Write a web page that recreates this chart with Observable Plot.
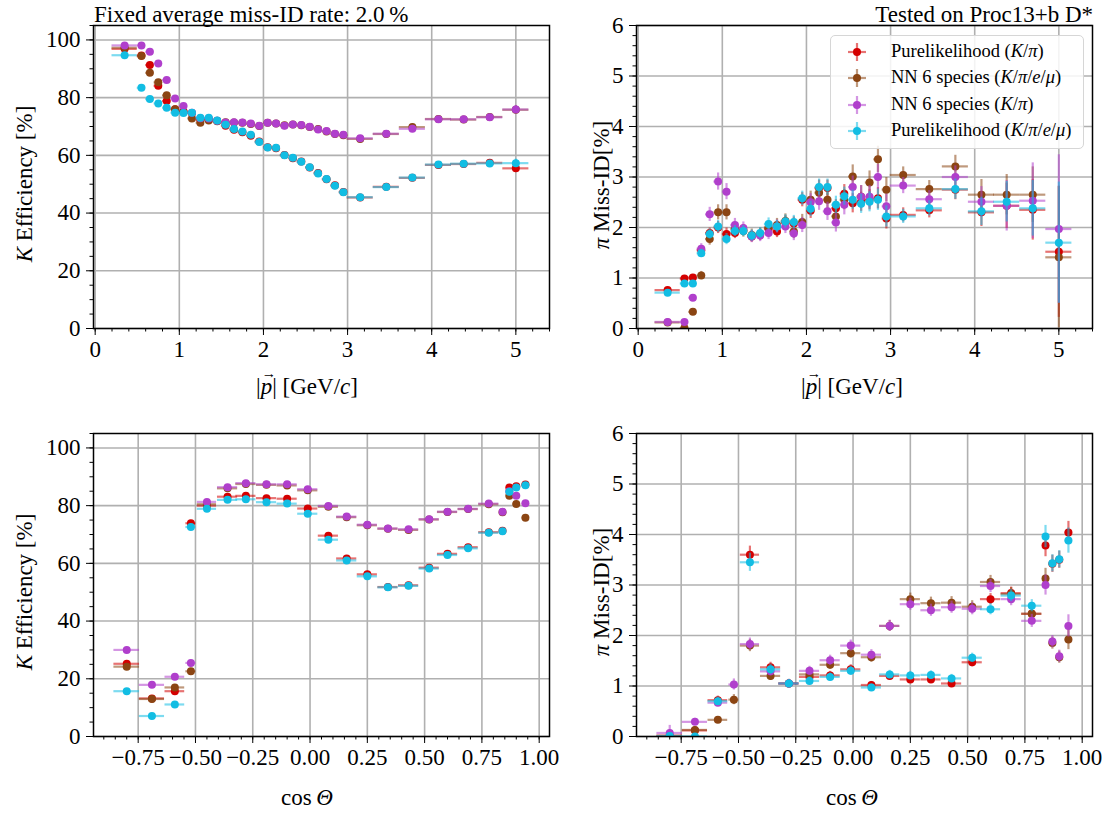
<!DOCTYPE html>
<html>
<head>
<meta charset="utf-8">
<script src="https://cdn.jsdelivr.net/npm/d3@7"></script>
<script src="https://cdn.jsdelivr.net/npm/@observablehq/plot@0.6"></script>
<style>
  body { margin: 0; background: #fff; }
  #fig { position: relative; width: 1112px; height: 816px; overflow: hidden; font-family: "Liberation Serif", "DejaVu Serif", serif; }
  #fig svg { position: absolute; overflow: visible; }
  .txt { position: absolute; white-space: nowrap; color: #000; line-height: 1; font-size: 23px; }
  .vec { position: relative; display: inline-block; }
  .vec::after { content: "\2192"; position: absolute; left: 0.08em; top: -0.62em; font-size: 0.62em; font-style: normal; }
  .legend { position: absolute; left: 830px; top: 35px; width: 252px; height: 112px; border: 1px solid #d6d6d6; border-radius: 5px; background: rgba(255,255,255,0.85); }
  .legend .row { position: absolute; left: 0; height: 26px; width: 100%; }
  .legend svg { position: absolute; left: 13px; top: 0; }
  .legend span.lab { position: absolute; left: 60px; top: 3px; font-size: 18.5px; line-height: 1; white-space: nowrap; }
</style>
</head>
<body>
<div id="fig"></div>
<script>
// ---- series ----
const seriesNames = [
  "Purelikelihood (<i>K</i>/<i>π</i>)",
  "NN 6 species (<i>K</i>/<i>π</i>/<i>e</i>/<i>μ</i>)",
  "NN 6 species (<i>K</i>/<i>π</i>)",
  "Purelikelihood (<i>K</i>/<i>π</i>/<i>e</i>/<i>μ</i>)"
];

// ---- momentum bins (GeV/c) ----
const pCenters = [0.35, 0.55, 0.65, 0.75, 0.85, 0.95, 1.05, 1.15, 1.25, 1.35, 1.45, 1.55, 1.65, 1.75, 1.85, 1.95,
  2.05, 2.15, 2.25, 2.35, 2.45, 2.55, 2.65, 2.75, 2.85, 2.95, 3.15, 3.46, 3.77, 4.08, 4.38, 4.69, 5.0];
const pHalfWidths = [0.15, 0.05, 0.05, 0.05, 0.05, 0.05, 0.05, 0.05, 0.05, 0.05, 0.05, 0.05, 0.05, 0.05, 0.05, 0.05,
  0.05, 0.05, 0.05, 0.05, 0.05, 0.05, 0.05, 0.05, 0.05, 0.05, 0.155, 0.155, 0.155, 0.155, 0.155, 0.155, 0.155];

// K efficiency [%] vs momentum
const effP_pureKpi = [96.9, 94.6, 91.3, 84.1, 78.8, 76.0, 75.2, 74.6, 72.4, 72.6, 72.0, 70.3, 68.9, 68.0, 66.8, 64.8,
  62.8, 62.5, 60.1, 59.0, 57.9, 55.8, 53.9, 51.7, 49.6, 47.3, 45.4, 49.1, 52.2, 56.7, 57.0, 57.4, 55.5];
const effP_nnAll = [97.3, 94.4, 88.6, 85.3, 80.8, 76.0, 75.0, 72.8, 71.3, 72.1, 71.8, 71.5, 71.4, 71.3, 70.9, 70.2,
  71.3, 71.0, 70.4, 70.7, 70.4, 69.8, 69.1, 68.3, 67.4, 67.0, 65.7, 67.4, 69.8, 72.6, 72.4, 73.3, 75.8];
const effP_nnKpi = [98.1, 98.1, 95.9, 91.8, 86.1, 79.7, 77.1, 74.8, 72.9, 72.8, 72.0, 71.4, 71.5, 71.4, 71.0, 70.3,
  71.3, 71.0, 70.3, 70.7, 70.5, 69.9, 69.0, 68.4, 67.5, 67.1, 65.9, 67.5, 69.2, 72.5, 72.5, 73.2, 75.9];
const effP_pureAll = [94.7, 83.4, 79.5, 78.0, 76.5, 74.8, 74.7, 74.8, 73.0, 73.0, 72.1, 70.6, 69.1, 68.3, 67.1, 64.6,
  62.7, 62.6, 60.0, 59.2, 57.8, 55.9, 53.7, 51.8, 49.5, 47.2, 45.5, 49.0, 52.3, 56.8, 57.1, 57.2, 57.3];
const effP_err = [0.3, 0.3, 0.3, 0.3, 0.3, 0.3, 0.3, 0.3, 0.3, 0.3, 0.3, 0.3, 0.3, 0.3, 0.3, 0.3,
  0.3, 0.3, 0.3, 0.3, 0.3, 0.3, 0.3, 0.3, 0.3, 0.3, 0.5, 0.6, 0.7, 0.8, 0.9, 1.0, 1.4];

// pi miss-ID [%] vs momentum
const misP_pureKpi = [0.76, 0.99, 1.01, 1.55, 1.89, 2.00, 1.87, 1.89, 1.95, 1.82, 1.86, 1.97, 1.92, 2.10, 2.08, 2.55,
  2.33, 2.78, 2.78, 2.38, 2.67, 2.48, 2.51, 2.55, 2.58, 2.18, 2.25, 2.34, 2.75, 2.30, 2.43, 2.35, 1.52];
const misP_nnAll = [0.12, 0.01, 0.33, 1.05, 1.77, 2.30, 2.30, 1.97, 1.93, 1.85, 1.87, 2.00, 2.05, 2.13, 1.92, 2.11,
  2.55, 2.69, 2.55, 2.22, 2.55, 3.01, 2.61, 2.89, 3.35, 2.75, 3.04, 2.76, 3.21, 2.65, 2.65, 2.65, 1.41];
const misP_nnKpi = [0.13, 0.13, 0.61, 1.58, 2.26, 2.91, 2.71, 2.05, 1.99, 1.82, 1.84, 1.89, 2.02, 2.02, 1.88, 2.05,
  2.50, 2.52, 2.32, 2.10, 2.45, 2.80, 2.61, 2.61, 3.00, 2.42, 2.83, 2.56, 3.00, 2.51, 2.43, 2.53, 1.97];
const misP_pureAll = [0.71, 0.89, 0.89, 1.49, 1.87, 2.02, 1.77, 1.93, 1.93, 1.84, 1.89, 2.07, 2.02, 2.12, 2.11, 2.58,
  2.37, 2.80, 2.80, 2.45, 2.62, 2.55, 2.47, 2.51, 2.55, 2.22, 2.22, 2.38, 2.76, 2.32, 2.51, 2.38, 1.70];
const misP_err_pureKpi = [0.04, 0.05, 0.06, 0.08, 0.10, 0.12, 0.12, 0.11, 0.11, 0.11, 0.11, 0.12, 0.12, 0.13, 0.13, 0.14,
  0.15, 0.16, 0.16, 0.17, 0.18, 0.19, 0.19, 0.20, 0.21, 0.21, 0.14, 0.15, 0.20, 0.28, 0.45, 0.60, 1.30];
const misP_err_nnAll = [0.02, 0.02, 0.05, 0.08, 0.12, 0.15, 0.15, 0.12, 0.12, 0.12, 0.12, 0.13, 0.13, 0.14, 0.14, 0.15,
  0.17, 0.18, 0.18, 0.19, 0.20, 0.23, 0.22, 0.23, 0.26, 0.24, 0.16, 0.17, 0.22, 0.30, 0.40, 0.55, 1.40];
const misP_err_nnKpi = [0.02, 0.02, 0.06, 0.10, 0.14, 0.17, 0.16, 0.13, 0.12, 0.12, 0.12, 0.13, 0.13, 0.14, 0.14, 0.15,
  0.17, 0.18, 0.18, 0.19, 0.20, 0.22, 0.22, 0.22, 0.25, 0.24, 0.16, 0.17, 0.22, 0.30, 0.50, 0.75, 1.47];
const misP_err_pureAll = [0.04, 0.05, 0.06, 0.08, 0.10, 0.12, 0.11, 0.11, 0.11, 0.11, 0.11, 0.12, 0.12, 0.13, 0.13, 0.14,
  0.15, 0.16, 0.16, 0.17, 0.18, 0.19, 0.19, 0.20, 0.21, 0.21, 0.14, 0.15, 0.20, 0.28, 0.40, 0.55, 1.20];

// ---- polar-angle bins (cos theta) ----
const cosCenters = [-0.80, -0.69, -0.59, -0.52, -0.45, -0.36, -0.28, -0.19, -0.10, -0.01, 0.08, 0.16,
  0.25, 0.34, 0.43, 0.52, 0.60, 0.69, 0.78, 0.84, 0.87, 0.90, 0.94];
const cosHalfWidths = [0.056, 0.055, 0.043, 0.022, 0.042, 0.044, 0.044, 0.044, 0.044, 0.044, 0.044, 0.044,
  0.044, 0.044, 0.044, 0.044, 0.044, 0.044, 0.044, 0.012, 0.015, 0.015, 0.015];

// K efficiency [%] vs cos theta
const effC_pureKpi = [25.2, 13.2, 15.7, 73.9, 80.0, 83.1, 83.4, 82.6, 82.4, 79.0, 69.6, 61.7,
  56.2, 51.8, 52.4, 58.5, 63.3, 65.6, 70.8, 71.3, 86.3, 86.7, 87.3];
const effC_nnAll = [24.2, 13.0, 17.0, 22.6, 80.5, 86.0, 87.5, 87.2, 87.0, 85.3, 79.6, 76.0,
  73.2, 72.0, 71.6, 75.2, 77.8, 78.8, 80.5, 77.7, 83.4, 80.6, 75.8];
const effC_nnKpi = [30.0, 17.9, 20.7, 25.5, 81.3, 86.4, 87.8, 87.4, 87.4, 85.7, 79.9, 76.2,
  73.4, 72.1, 71.8, 75.3, 77.9, 78.9, 80.7, 77.9, 85.0, 83.4, 80.8];
const effC_pureAll = [15.7, 7.1, 11.1, 72.6, 78.9, 82.0, 82.2, 81.2, 80.7, 77.2, 68.2, 61.0,
  55.5, 51.7, 52.2, 58.2, 62.9, 65.2, 70.6, 71.1, 84.8, 86.3, 87.1];
const effC_err = [0.9, 0.8, 0.8, 0.6, 0.4, 0.3, 0.3, 0.3, 0.3, 0.3, 0.4, 0.4,
  0.4, 0.4, 0.4, 0.4, 0.4, 0.4, 0.4, 0.5, 0.5, 0.5, 0.6];

// pi miss-ID [%] vs cos theta
const misC_pureKpi = [0.02, 0.12, 0.72, null, 3.60, 1.37, 1.05, 1.18, 1.21, 1.33, 1.02, 1.20,
  1.13, 1.13, 1.05, 1.47, 2.72, 2.84, 2.43, 3.78, 3.42, 3.50, 4.04];
const misC_nnAll = [0.00, 0.13, 0.33, 0.73, 1.80, 1.20, 1.05, 1.23, 1.42, 1.65, 1.57, 2.19,
  2.72, 2.64, 2.65, 2.57, 3.06, 2.82, 2.43, 3.13, 1.85, 1.57, 1.92];
const misC_nnKpi = [0.07, 0.29, 0.67, 1.03, 1.83, 1.29, 1.05, 1.30, 1.51, 1.80, 1.62, 2.19,
  2.62, 2.50, 2.56, 2.53, 2.98, 2.72, 2.29, 3.00, 1.88, 1.59, 2.19];
const misC_pureAll = [0.01, 0.00, 0.70, null, 3.45, 1.33, 1.05, 1.10, 1.18, 1.30, 0.97, 1.23,
  1.21, 1.22, 1.15, 1.56, 2.52, 2.79, 2.59, 3.96, 3.43, 3.51, 3.88];
const misC_err_pureKpi = [0.05, 0.06, 0.08, null, 0.17, 0.10, 0.08, 0.08, 0.08, 0.09, 0.07, 0.08,
  0.08, 0.08, 0.08, 0.09, 0.11, 0.12, 0.12, 0.22, 0.17, 0.17, 0.22];
const misC_err_nnAll = [0.04, 0.05, 0.06, 0.10, 0.12, 0.09, 0.08, 0.08, 0.09, 0.10, 0.10, 0.11,
  0.12, 0.12, 0.12, 0.12, 0.13, 0.13, 0.13, 0.20, 0.12, 0.12, 0.20];
const misC_err_nnKpi = [0.15, 0.07, 0.07, 0.11, 0.12, 0.09, 0.08, 0.09, 0.10, 0.11, 0.10, 0.11,
  0.12, 0.12, 0.12, 0.12, 0.13, 0.13, 0.13, 0.20, 0.12, 0.12, 0.22];
const misC_err_pureAll = [0.04, 0.04, 0.08, null, 0.18, 0.10, 0.08, 0.08, 0.08, 0.09, 0.07, 0.08,
  0.08, 0.08, 0.08, 0.09, 0.11, 0.12, 0.12, 0.22, 0.17, 0.17, 0.25];

// ---- axis ticks ----
const pTicks = [0, 1, 2, 3, 4, 5];
const cosTicks = [-0.75, -0.5, -0.25, 0, 0.25, 0.5, 0.75, 1.0];
const effTicks = [0, 20, 40, 60, 80, 100];
const misTicks = [0, 1, 2, 3, 4, 5, 6];

// ---- styling ----
const colors = ["#d40000", "#8b4513", "#b03fcc", "#12bde3"];
const FONT = '"Liberation Serif", "DejaVu Serif", serif';
const fig = document.getElementById("fig");

function rows(xc, xhw, yv, ye) {
  return xc.map((x, i) => ({
    x, x1: x - xhw[i], x2: x + xhw[i],
    y: yv[i], y1: yv[i] - ye[i], y2: yv[i] + ye[i]
  })).filter(d => d.y != null);
}

const minus = s => s.replace("-", "\u2212");
const fmtInt = d => minus(String(d));
const fmt2 = d => minus(d.toFixed(2));

function minorTicks(domain, step) {
  const start = Math.ceil(domain[0] / step - 1e-9);
  const stop = Math.floor(domain[1] / step + 1e-9);
  return d3.range(start, stop + 1).map(k => +(k * step).toFixed(6));
}

function panel({left, top, xDomain, yDomain, xTicks, xStep, yTicks, yStep, xFormat, yFormat, series}) {
  const grid = {stroke: "#b0b0b0", strokeOpacity: 1, strokeWidth: 1.6};
  const marks = [
    Plot.gridX({ticks: xTicks, ...grid}),
    Plot.gridY({ticks: yTicks, ...grid})
  ];
  series.forEach((data, i) => {
    const c = colors[i];
    marks.push(
      Plot.ruleY(data, {y: "y", x1: "x1", x2: "x2", stroke: c, strokeOpacity: 0.55, strokeWidth: 2.2, clip: true}),
      Plot.ruleX(data, {x: "x", y1: "y1", y2: "y2", stroke: c, strokeOpacity: 0.55, strokeWidth: 2.2, clip: true}),
      Plot.dot(data, {x: "x", y: "y", r: 4, fill: c, clip: true})
    );
  });
  marks.push(
    Plot.frame({stroke: "#000", strokeWidth: 1.5}),
    Plot.axisX({ticks: minorTicks(xDomain, xStep), tickSize: 3.5, tickFormat: () => "", label: null}),
    Plot.axisX({ticks: xTicks, tickSize: 7, tickPadding: 5, tickFormat: xFormat, label: null}),
    Plot.axisY({ticks: minorTicks(yDomain, yStep), tickSize: 3.5, tickFormat: () => "", label: null}),
    Plot.axisY({ticks: yTicks, tickSize: 7, tickPadding: 6, tickFormat: yFormat, label: null})
  );
  const svg = Plot.plot({
    width: 556, height: 408,
    marginLeft: 93, marginRight: 7, marginTop: 25, marginBottom: 80,
    x: {domain: xDomain}, y: {domain: yDomain},
    style: {fontFamily: FONT, fontSize: "23px", color: "#000", background: "transparent"},
    marks
  });
  svg.style.left = left + "px";
  svg.style.top = top + "px";
  fig.append(svg);
}

const pDomain = [-0.02, 5.40];
const cosDomain = [-0.945, 1.045];

panel({
  left: 0, top: 0, xDomain: pDomain, yDomain: [0, 105],
  xTicks: pTicks, xStep: 0.2, yTicks: effTicks, yStep: 5, xFormat: fmtInt, yFormat: fmtInt,
  series: [
    rows(pCenters, pHalfWidths, effP_pureKpi, effP_err),
    rows(pCenters, pHalfWidths, effP_nnAll, effP_err),
    rows(pCenters, pHalfWidths, effP_nnKpi, effP_err),
    rows(pCenters, pHalfWidths, effP_pureAll, effP_err)
  ]
});

panel({
  left: 543, top: 0, xDomain: pDomain, yDomain: [0, 6],
  xTicks: pTicks, xStep: 0.2, yTicks: misTicks, yStep: 0.2, xFormat: fmtInt, yFormat: fmtInt,
  series: [
    rows(pCenters, pHalfWidths, misP_pureKpi, misP_err_pureKpi),
    rows(pCenters, pHalfWidths, misP_nnAll, misP_err_nnAll),
    rows(pCenters, pHalfWidths, misP_nnKpi, misP_err_nnKpi),
    rows(pCenters, pHalfWidths, misP_pureAll, misP_err_pureAll)
  ]
});

panel({
  left: 0, top: 408, xDomain: cosDomain, yDomain: [0, 105],
  xTicks: cosTicks, xStep: 0.05, yTicks: effTicks, yStep: 5, xFormat: fmt2, yFormat: fmtInt,
  series: [
    rows(cosCenters, cosHalfWidths, effC_pureKpi, effC_err),
    rows(cosCenters, cosHalfWidths, effC_nnAll, effC_err),
    rows(cosCenters, cosHalfWidths, effC_nnKpi, effC_err),
    rows(cosCenters, cosHalfWidths, effC_pureAll, effC_err)
  ]
});

panel({
  left: 543, top: 408, xDomain: cosDomain, yDomain: [0, 6],
  xTicks: cosTicks, xStep: 0.05, yTicks: misTicks, yStep: 0.2, xFormat: fmt2, yFormat: fmtInt,
  series: [
    rows(cosCenters, cosHalfWidths, misC_pureKpi, misC_err_pureKpi),
    rows(cosCenters, cosHalfWidths, misC_nnAll, misC_err_nnAll),
    rows(cosCenters, cosHalfWidths, misC_nnKpi, misC_err_nnKpi),
    rows(cosCenters, cosHalfWidths, misC_pureAll, misC_err_pureAll)
  ]
});

// ---- text: titles and axis labels ----
function addText(html, x, y, {anchor = "middle", rotate = false, size} = {}) {
  const el = document.createElement("div");
  el.className = "txt";
  el.innerHTML = html;
  if (size) el.style.fontSize = size + "px";
  el.style.left = x + "px";
  el.style.top = y + "px";
  const tx = anchor === "start" ? "0" : anchor === "end" ? "-100%" : "-50%";
  el.style.transform = `translate(${tx}, -50%)` + (rotate ? " rotate(-90deg)" : "");
  if (rotate) el.style.transformOrigin = "0 50%";
  fig.append(el);
  if (rotate) {
    el.style.transformOrigin = "50% 50%";
    el.style.transform = "translate(-50%, -50%) rotate(-90deg)";
  }
}

addText("Fixed average miss-ID rate: 2.0\u2009%", 94, 14, {anchor: "start"});
addText("Tested on Proc13+b D*", 1093, 14, {anchor: "end"});

const pLabel = '|<span class="vec"><i>p</i></span>| [GeV/<i>c</i>]';
const cosLabel = 'cos\u2009<i>Θ</i>';
const effLabel = '<i>K</i> Efficiency [%]';
const misLabel = '<i>π</i> Miss-ID[%]';

addText(pLabel, 307, 386);
addText(pLabel, 852, 386);
addText(cosLabel, 307, 797);
addText(cosLabel, 852, 797);
addText(effLabel, 24, 184, {rotate: true});
addText(misLabel, 601, 185, {rotate: true});
addText(effLabel, 24, 592, {rotate: true});
addText(misLabel, 601, 592, {rotate: true});

// ---- legend ----
const legend = document.createElement("div");
legend.className = "legend";
seriesNames.forEach((name, i) => {
  const row = document.createElement("div");
  row.className = "row";
  row.style.top = (3 + i * 26.4) + "px";
  const c = colors[i];
  row.innerHTML =
    `<svg width="26" height="26" viewBox="0 0 26 26">
       <line x1="4" x2="22" y1="13" y2="13" stroke="${c}" stroke-opacity="0.55" stroke-width="2.2"/>
       <line x1="13" x2="13" y1="4" y2="22" stroke="${c}" stroke-opacity="0.55" stroke-width="2.2"/>
       <circle cx="13" cy="13" r="4" fill="${c}"/>
     </svg><span class="lab">${name}</span>`;
  legend.append(row);
});
fig.append(legend);
</script>
</body>
</html>
